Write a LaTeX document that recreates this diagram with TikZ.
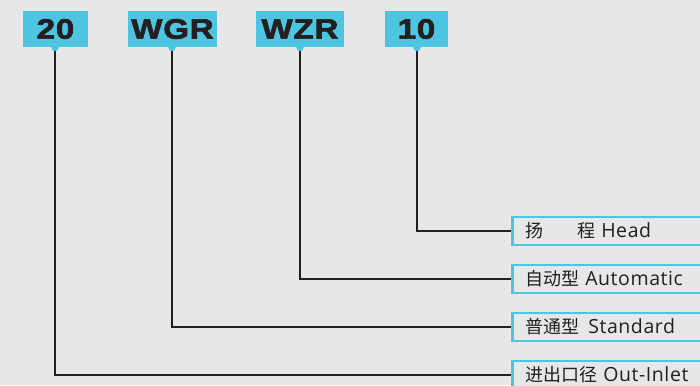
\documentclass[tikz,border=0pt]{standalone}
\usepackage{fontspec}
\newfontfamily\cjk{Noto Sans CJK SC}
\newfontfamily\lat[LetterSpace=3]{Open Sans}
\newfontfamily\codefont[LetterSpace=3,FakeStretch=1.18,FakeBold=2.5]{Liberation Sans Bold}
\definecolor{bg}{HTML}{E6E7E9}
\definecolor{cy}{HTML}{4DC5E0}
\definecolor{ink}{HTML}{231F20}
\tikzset{
  codebox/.style={fill=cy, draw=none, minimum height=36pt, inner sep=0pt, text=ink,
    font=\codefont\fontsize{28}{30}\selectfont},
  bump/.style={circle, fill=cy, minimum size=7pt, inner sep=0pt},
  descbox/.style={draw=cy, line width=2.5pt, fill=bg, minimum width=215pt, minimum height=28pt,
    anchor=west, align=left, text width=190pt, inner xsep=13pt, inner ysep=0pt, text=ink,
    font=\fontsize{18}{20}\selectfont},
  conn/.style={draw=ink, line width=2pt}
}
\newcommand{\lt}[1]{{\lat\fontsize{19.5}{20}\selectfont #1}}
\begin{document}
\begin{tikzpicture}[x=1pt,y=-1pt]
\fill[bg] (0,0) rectangle (700,385);
\useasboundingbox (0,0) rectangle (700,385);
\clip (0,0) rectangle (700,385);
% top code boxes
\node[codebox, minimum width=65pt] (c1) at (55.5,29) {20};
\node[codebox, minimum width=89pt] (c2) at (172.5,29) {WGR};
\node[codebox, minimum width=88pt] (c3) at (300,29) {WZR};
\node[codebox, minimum width=63pt] (c4) at (416.5,29) {10};
% bumps
\node[bump] (b1) at (55,47.5) {};
\node[bump] (b2) at (172,47.5) {};
\node[bump] (b3) at (300,47.5) {};
\node[bump] (b4) at (417,47.5) {};
% description boxes
\node[descbox] (d4) at (511,231) {{\cjk 扬}\hspace{34pt}{\cjk 程} \lt{Head}};
\node[descbox] (d3) at (511,279) {{\cjk 自动型} \lt{Automatic}};
\node[descbox] (d2) at (511,327) {{\cjk 普通型}\hspace{9pt}\lt{Standard}};
\node[descbox] (d1) at (511,375) {{\cjk 进出口径} \lt{Out-Inlet}};
% connectors
\draw[conn] (b1.center) |- (d1.west);
\draw[conn] (b2.center) |- (d2.west);
\draw[conn] (b3.center) |- (d3.west);
\draw[conn] (b4.center) |- (d4.west);
% redraw bumps over line tops
\node[bump] at (b1) {};
\node[bump] at (b2) {};
\node[bump] at (b3) {};
\node[bump] at (b4) {};
\end{tikzpicture}
\end{document}
